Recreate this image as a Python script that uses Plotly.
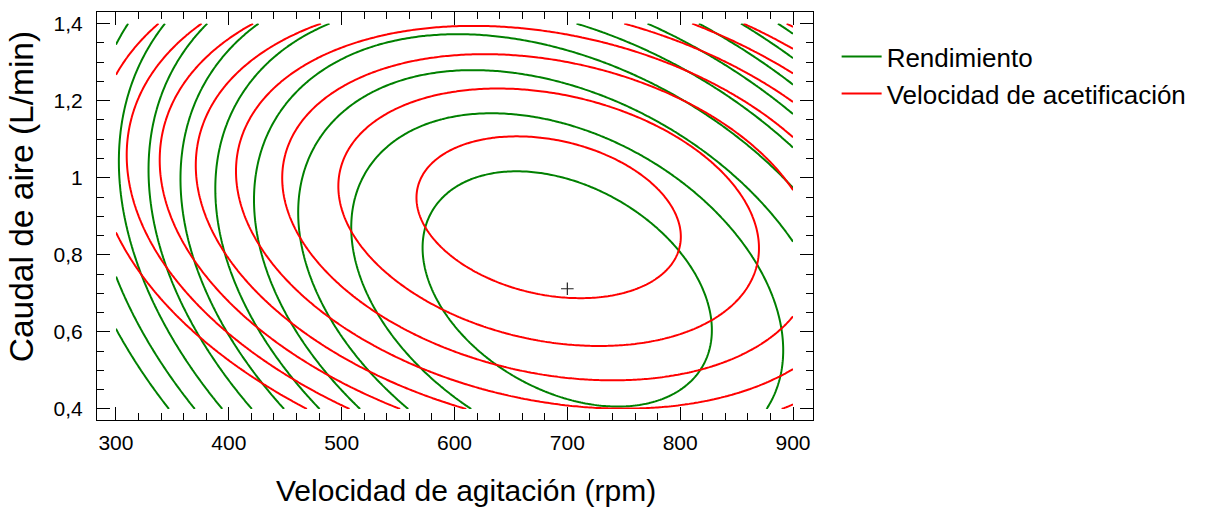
import numpy as np
import plotly.graph_objects as go

# Experimental domain (rpm and L/min)
agitacion_rango = [300, 900]
caudal_rango = [0.4, 1.4]

# Second-order response-surface models in coded variables
# u = (rpm - 600)/300, v = (caudal - 0.9)/0.5
# coefficients: [b0, b_u, b_v, b_uu, b_vv, b_uv]
rendimiento_coef = [90.209, 2.443, -1.047, -5.076, -2.487, -2.487]
velocidad_coef = [2.0304, 0.2518, 0.0525, -0.4545, -0.3931, -0.2032]

# Contour levels
rendimiento_niveles = [81, 90, 1]      # start, end, step
velocidad_niveles = [1.3, 2.0, 0.1]

# Optimum marker
optimo_rpm = [700]
optimo_caudal = [0.712]

series_nombres = ["Rendimiento", "Velocidad de acetificación"]
series_colores = ["#008000", "#FF0000"]

x_ticks = [300, 400, 500, 600, 700, 800, 900]
y_ticks = [0.4, 0.6, 0.8, 1.0, 1.2, 1.4]

titulo_x = "Velocidad de agitación (rpm)"
titulo_y = "Caudal de aire (L/min)"

xg = np.linspace(agitacion_rango[0], agitacion_rango[1], 301)
yg = np.linspace(caudal_rango[0], caudal_rango[1], 251)
X, Y = np.meshgrid(xg, yg)
U = (X - 600) / 300
V = (Y - 0.9) / 0.5


def superficie(c):
    return c[0] + c[1] * U + c[2] * V + c[3] * U ** 2 + c[4] * V ** 2 + c[5] * U * V


fig = go.Figure()
for coef, niv, nombre, color in zip(
    [rendimiento_coef, velocidad_coef],
    [rendimiento_niveles, velocidad_niveles],
    series_nombres,
    series_colores,
):
    fig.add_trace(
        go.Contour(
            x=xg,
            y=yg,
            z=superficie(coef),
            contours=dict(coloring="lines", start=niv[0], end=niv[1], size=niv[2], showlabels=False),
            colorscale=[[0, color], [1, color]],
            line=dict(width=2, smoothing=0),
            showscale=False,
            hoverinfo="skip",
            showlegend=False,
            name=nombre,
        )
    )

for nombre, color in zip(series_nombres, series_colores):
    fig.add_trace(
        go.Scatter(
            x=[None],
            y=[None],
            mode="lines",
            line=dict(color=color, width=2),
            name=nombre,
            showlegend=True,
        )
    )

fig.add_trace(
    go.Scatter(
        x=optimo_rpm,
        y=optimo_caudal,
        mode="markers",
        marker=dict(symbol="cross-thin", size=9, line=dict(color="#222222", width=1.2)),
        showlegend=False,
        hoverinfo="skip",
    )
)

fuente = "Liberation Sans, Arial, sans-serif"
fig.update_layout(
    width=1208,
    height=510,
    margin=dict(l=97, r=395, t=12, b=90),
    paper_bgcolor="white",
    plot_bgcolor="white",
    separators=",.",
    font=dict(family=fuente, color="black"),
    legend=dict(
        x=1.033,
        y=0.948,
        xanchor="left",
        yanchor="top",
        font=dict(size=26, family=fuente, color="black"),
        itemwidth=40,
        tracegroupgap=0,
        bgcolor="rgba(0,0,0,0)",
    ),
    xaxis=dict(
        range=[283.2, 917.7],
        tickvals=x_ticks,
        ticks="inside",
        ticklen=13,
        tickwidth=1,
        tickcolor="black",
        minor=dict(ticks="inside", ticklen=7, dtick=20, tick0=300, tickcolor="black"),
        showline=True,
        linecolor="black",
        linewidth=1,
        mirror="allticks",
        showgrid=False,
        zeroline=False,
        tickfont=dict(size=21, family=fuente),
        ticklabelstandoff=4,
    ),
    yaxis=dict(
        range=[0.3714, 1.430],
        tickvals=y_ticks,
        ticks="inside",
        ticklen=13,
        tickwidth=1,
        tickcolor="black",
        minor=dict(ticks="inside", ticklen=7, dtick=0.05, tick0=0.4, tickcolor="black"),
        showline=True,
        linecolor="black",
        linewidth=1,
        mirror="allticks",
        showgrid=False,
        zeroline=False,
        tickfont=dict(size=21, family=fuente),
        ticklabelstandoff=9,
    ),
    annotations=[
        dict(
            text=titulo_x,
            xref="paper",
            yref="paper",
            x=0.5154,
            y=-0.174,
            xanchor="center",
            yanchor="middle",
            showarrow=False,
            font=dict(size=30, family=fuente, color="black"),
        ),
        dict(
            text=titulo_y,
            xref="paper",
            yref="paper",
            x=-0.1055,
            y=0.547,
            xanchor="center",
            yanchor="middle",
            textangle=-90,
            showarrow=False,
            font=dict(size=33.5, family=fuente, color="black"),
        ),
    ],
)

fig.write_html("out.html")
